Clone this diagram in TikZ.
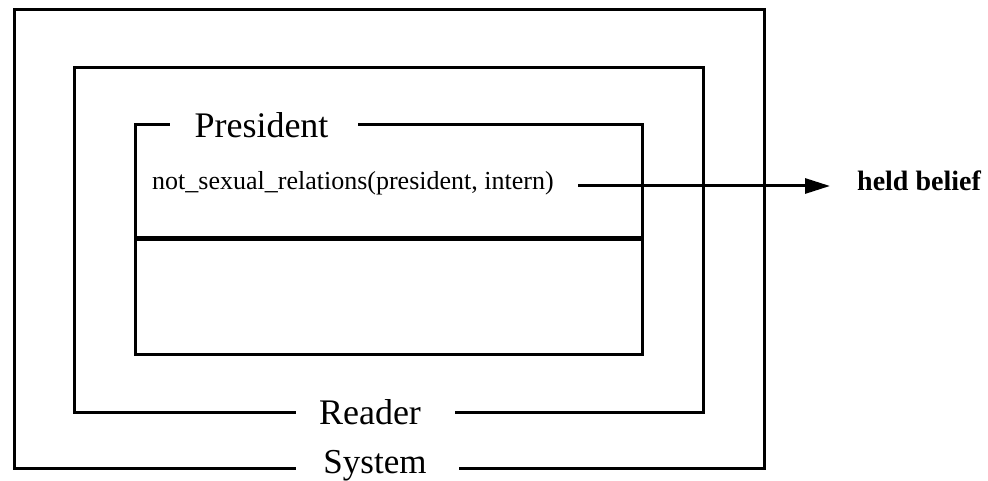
\documentclass[tikz,border=0pt]{standalone}
\usepackage{fontspec}
\setmainfont{Liberation Serif}
\usetikzlibrary{arrows.meta}
\begin{document}
\begin{tikzpicture}[x=1pt,y=-1pt,
  boxline/.style={line width=3pt,line join=miter,line cap=butt},
  divider/.style={line width=5pt},
  boxlabel/.style={inner sep=0pt,font=\fontsize{36}{40}\selectfont},
  predicate/.style={inner sep=0pt,anchor=base west,font=\fontsize{26}{30}\selectfont},
  beliefnote/.style={inner sep=0pt,anchor=base west,font=\fontsize{28}{32}\selectfont\bfseries},
  arr/.style={line width=3pt,-{Triangle[length=25pt,width=15pt]}}]
\useasboundingbox (0,0) rectangle (988,481);

% labels that interrupt the box outlines
\node[boxlabel,anchor=base,font=\fontsize{35}{40}\selectfont] (sys) at (375,473) {System};
\node[boxlabel] (rdr) at (370,412) {Reader};
\node[boxlabel] (pres) at (261.5,125) {President};

% outer box: System
\draw[boxline] (459,468) -- (764,468) -- (764,10) -- (14,10) -- (14,468) -- (296,468);
% middle box: Reader
\draw[boxline] (455,412) -- (703,412) -- (703,68) -- (74,68) -- (74,412) -- (296,412);
% inner box: President
\draw[boxline] (358,125) -- (642,125) -- (642,354) -- (135,354) -- (135,125) -- (170,125);
\draw[divider] (135,239) -- (642,239);

% belief inside the President box
\node[predicate] (pred) at (152,190) {not\_sexual\_relations(president, intern)};
\node[beliefnote] (belief) at (857,191) {held belief};

\coordinate (astart) at (578,186);
\draw[arr,shorten >=27pt] (astart) -- (astart -| belief.west);
\end{tikzpicture}
\end{document}
